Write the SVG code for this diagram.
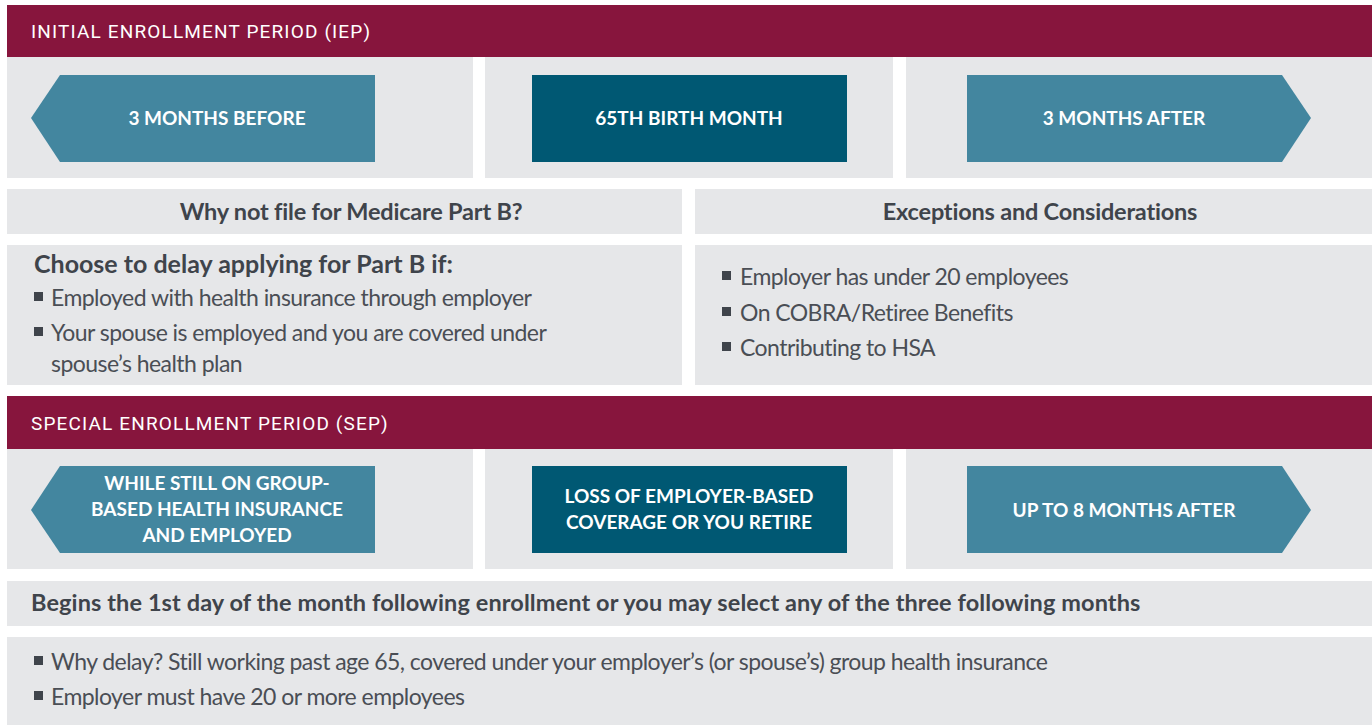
<svg xmlns="http://www.w3.org/2000/svg" width="1372" height="725" viewBox="0 0 1372 725">
<style>
.bar{fill:#87153D}
.pnl{fill:#E6E7E9}
.lt{fill:#43869F}
.dk{fill:#005873}
.hd{font-family:Roboto,"DejaVu Sans",sans-serif;font-size:19px;fill:#fff;letter-spacing:1.15px}
.bx{font-family:Lato,"Open Sans",sans-serif;font-weight:700;font-size:19px;fill:#fff;text-anchor:middle}
.sh{font-family:Lato,"Open Sans",sans-serif;font-weight:700;font-size:23.5px;fill:#3F444B;text-anchor:middle;letter-spacing:-0.2px}
.sub{font-family:Lato,"Open Sans",sans-serif;font-weight:700;font-size:23.5px;fill:#3F444B;letter-spacing:0.1px}
.bd{font-family:Lato,"Open Sans",sans-serif;font-weight:400;font-size:23px;fill:#4A4E55;letter-spacing:-0.55px}
.bul{fill:#3F444B}
</style>
<rect width="1372" height="725" fill="#fff"/>
<g id="iep-header"><rect class="bar" x="7" y="5" width="1365" height="52"/><text class="hd" x="31" y="38">INITIAL ENROLLMENT PERIOD (IEP)</text></g>
<g id="iep-before"><rect class="pnl" x="7" y="57" width="466" height="121"/><polygon class="lt" points="31,118 60,75 375,75 375,162 60,162"/><text class="bx" x="217" y="125">3 MONTHS BEFORE</text></g>
<g id="iep-birth"><rect class="pnl" x="485" y="57" width="408" height="121"/><rect class="dk" x="532" y="75" width="315" height="87"/><text class="bx" x="689" y="125">65TH BIRTH MONTH</text></g>
<g id="iep-after"><rect class="pnl" x="906" y="57" width="466" height="121"/><polygon class="lt" points="967,75 1282,75 1311,118 1282,162 967,162"/><text class="bx" x="1124" y="125">3 MONTHS AFTER</text></g>
<g id="why-head"><rect class="pnl" x="7" y="189" width="675" height="45"/><text class="sh" x="351" y="220">Why not file for Medicare Part B?</text></g>
<g id="exc-head"><rect class="pnl" x="695" y="189" width="677" height="45"/><text class="sh" x="1040" y="220">Exceptions and Considerations</text></g>
<g id="why-body"><rect class="pnl" x="7" y="245" width="675" height="140"/>
<text class="sub" x="34" y="273" style="font-size:25px;letter-spacing:0">Choose to delay applying for Part B if:</text>
<rect class="bul" x="34" y="292" width="9" height="9"/><text class="bd" x="51" y="306">Employed with health insurance through employer</text>
<rect class="bul" x="34" y="327" width="9" height="9"/><text class="bd" x="51" y="341">Your spouse is employed and you are covered under</text>
<text class="bd" x="51" y="372">spouse’s health plan</text></g>
<g id="exc-body"><rect class="pnl" x="695" y="245" width="677" height="140"/>
<rect class="bul" x="722" y="271" width="9" height="9"/><text class="bd" x="740" y="285">Employer has under 20 employees</text>
<rect class="bul" x="722" y="307" width="9" height="9"/><text class="bd" x="740" y="321">On COBRA/Retiree Benefits</text>
<rect class="bul" x="722" y="342" width="9" height="9"/><text class="bd" x="740" y="356">Contributing to HSA</text></g>
<g id="sep-header"><rect class="bar" x="7" y="396" width="1365" height="53"/><text class="hd" x="31" y="430">SPECIAL ENROLLMENT PERIOD (SEP)</text></g>
<g id="sep-while"><rect class="pnl" x="7" y="449" width="466" height="120"/><polygon class="lt" points="31,510 60,466 375,466 375,553 60,553"/><text class="bx" x="217" y="490">WHILE STILL ON GROUP-</text><text class="bx" x="217" y="516">BASED HEALTH INSURANCE</text><text class="bx" x="217" y="542">AND EMPLOYED</text></g>
<g id="sep-loss"><rect class="pnl" x="485" y="449" width="408" height="120"/><rect class="dk" x="532" y="466" width="315" height="87"/><text class="bx" x="689" y="503">LOSS OF EMPLOYER-BASED</text><text class="bx" x="689" y="529">COVERAGE OR YOU RETIRE</text></g>
<g id="sep-after"><rect class="pnl" x="906" y="449" width="466" height="120"/><polygon class="lt" points="967,466 1282,466 1311,510 1282,553 967,553"/><text class="bx" x="1124" y="517">UP TO 8 MONTHS AFTER</text></g>
<g id="begins"><rect class="pnl" x="7" y="581" width="1365" height="45"/><text class="sub" x="31" y="611">Begins the 1st day of the month following enrollment or you may select any of the three following months</text></g>
<g id="sep-body"><rect class="pnl" x="7" y="637" width="1365" height="88"/>
<rect class="bul" x="34" y="656" width="9" height="9"/><text class="bd" x="51" y="670">Why delay? Still working past age 65, covered under your employer’s (or spouse’s) group health insurance</text>
<rect class="bul" x="34" y="691" width="9" height="9"/><text class="bd" x="51" y="705">Employer must have 20 or more employees</text></g>
<g id="connectors"></g>
</svg>
